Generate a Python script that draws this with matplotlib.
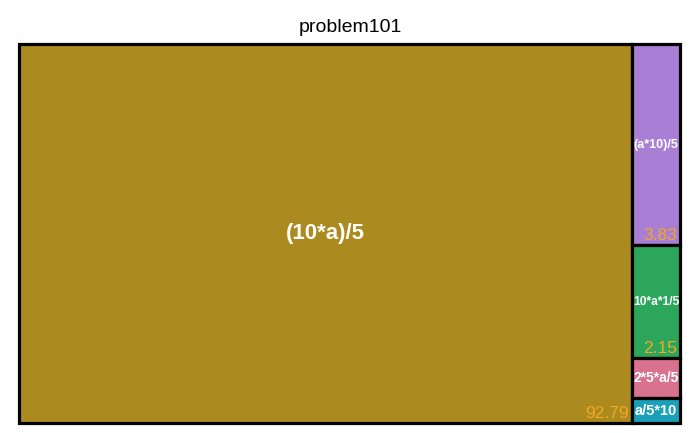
import matplotlib
matplotlib.use("Agg")
import matplotlib.pyplot as plt
from matplotlib.patches import Rectangle

plt.rcParams['font.family'] = ['Liberation Sans', 'DejaVu Sans']

# treemap data
labels = ["(10*a)/5", "(a*10)/5", "10*a*1/5", "2*5*a/5", "a/5*10"]
values = [92.79, 3.83, 2.15, 0.76, 0.47]
shown = ["92.79", "3.83", "2.15", "", ""]
colors = ["#ab8b1f", "#a87fd4", "#2ba65a", "#d8728f", "#1aa0b8"]
label_sizes = [16, 9, 8.7, 10, 10.5]

fig = plt.figure(figsize=(7, 4.33), dpi=100)
ax = fig.add_axes([19/700, 10/433, 661/700, 379/433])
ax.set_xlim(0, 1)
ax.set_ylim(0, 1)
ax.axis("off")

total = sum(values)
# first box takes the full height, the rest are stacked in a column on the right
w0 = values[0] / total
rects = [(0, 0, w0, 1)]
rest = sum(values[1:])
top = 1.0
for v in values[1:]:
    h = v / rest
    rects.append((w0, top - h, 1 - w0, h))
    top -= h

for i, (x, y, w, h) in enumerate(rects):
    ax.add_patch(Rectangle((x, y), w, h, facecolor=colors[i], edgecolor="black",
                           linewidth=2.3, clip_on=False))
    ax.text(x + w/2, y + h/2, labels[i], ha="center", va="center", color="white",
            fontweight="bold", fontsize=label_sizes[i])
    if shown[i]:
        ax.text(x + w - 0.005, y + 0.006, shown[i], ha="right", va="bottom",
                color="#f5a623", fontsize=12.5)

fig.text(0.5, 1 - 28/433, "problem101", ha="center", va="center", fontsize=14)
fig.savefig("out.png", dpi=100)
